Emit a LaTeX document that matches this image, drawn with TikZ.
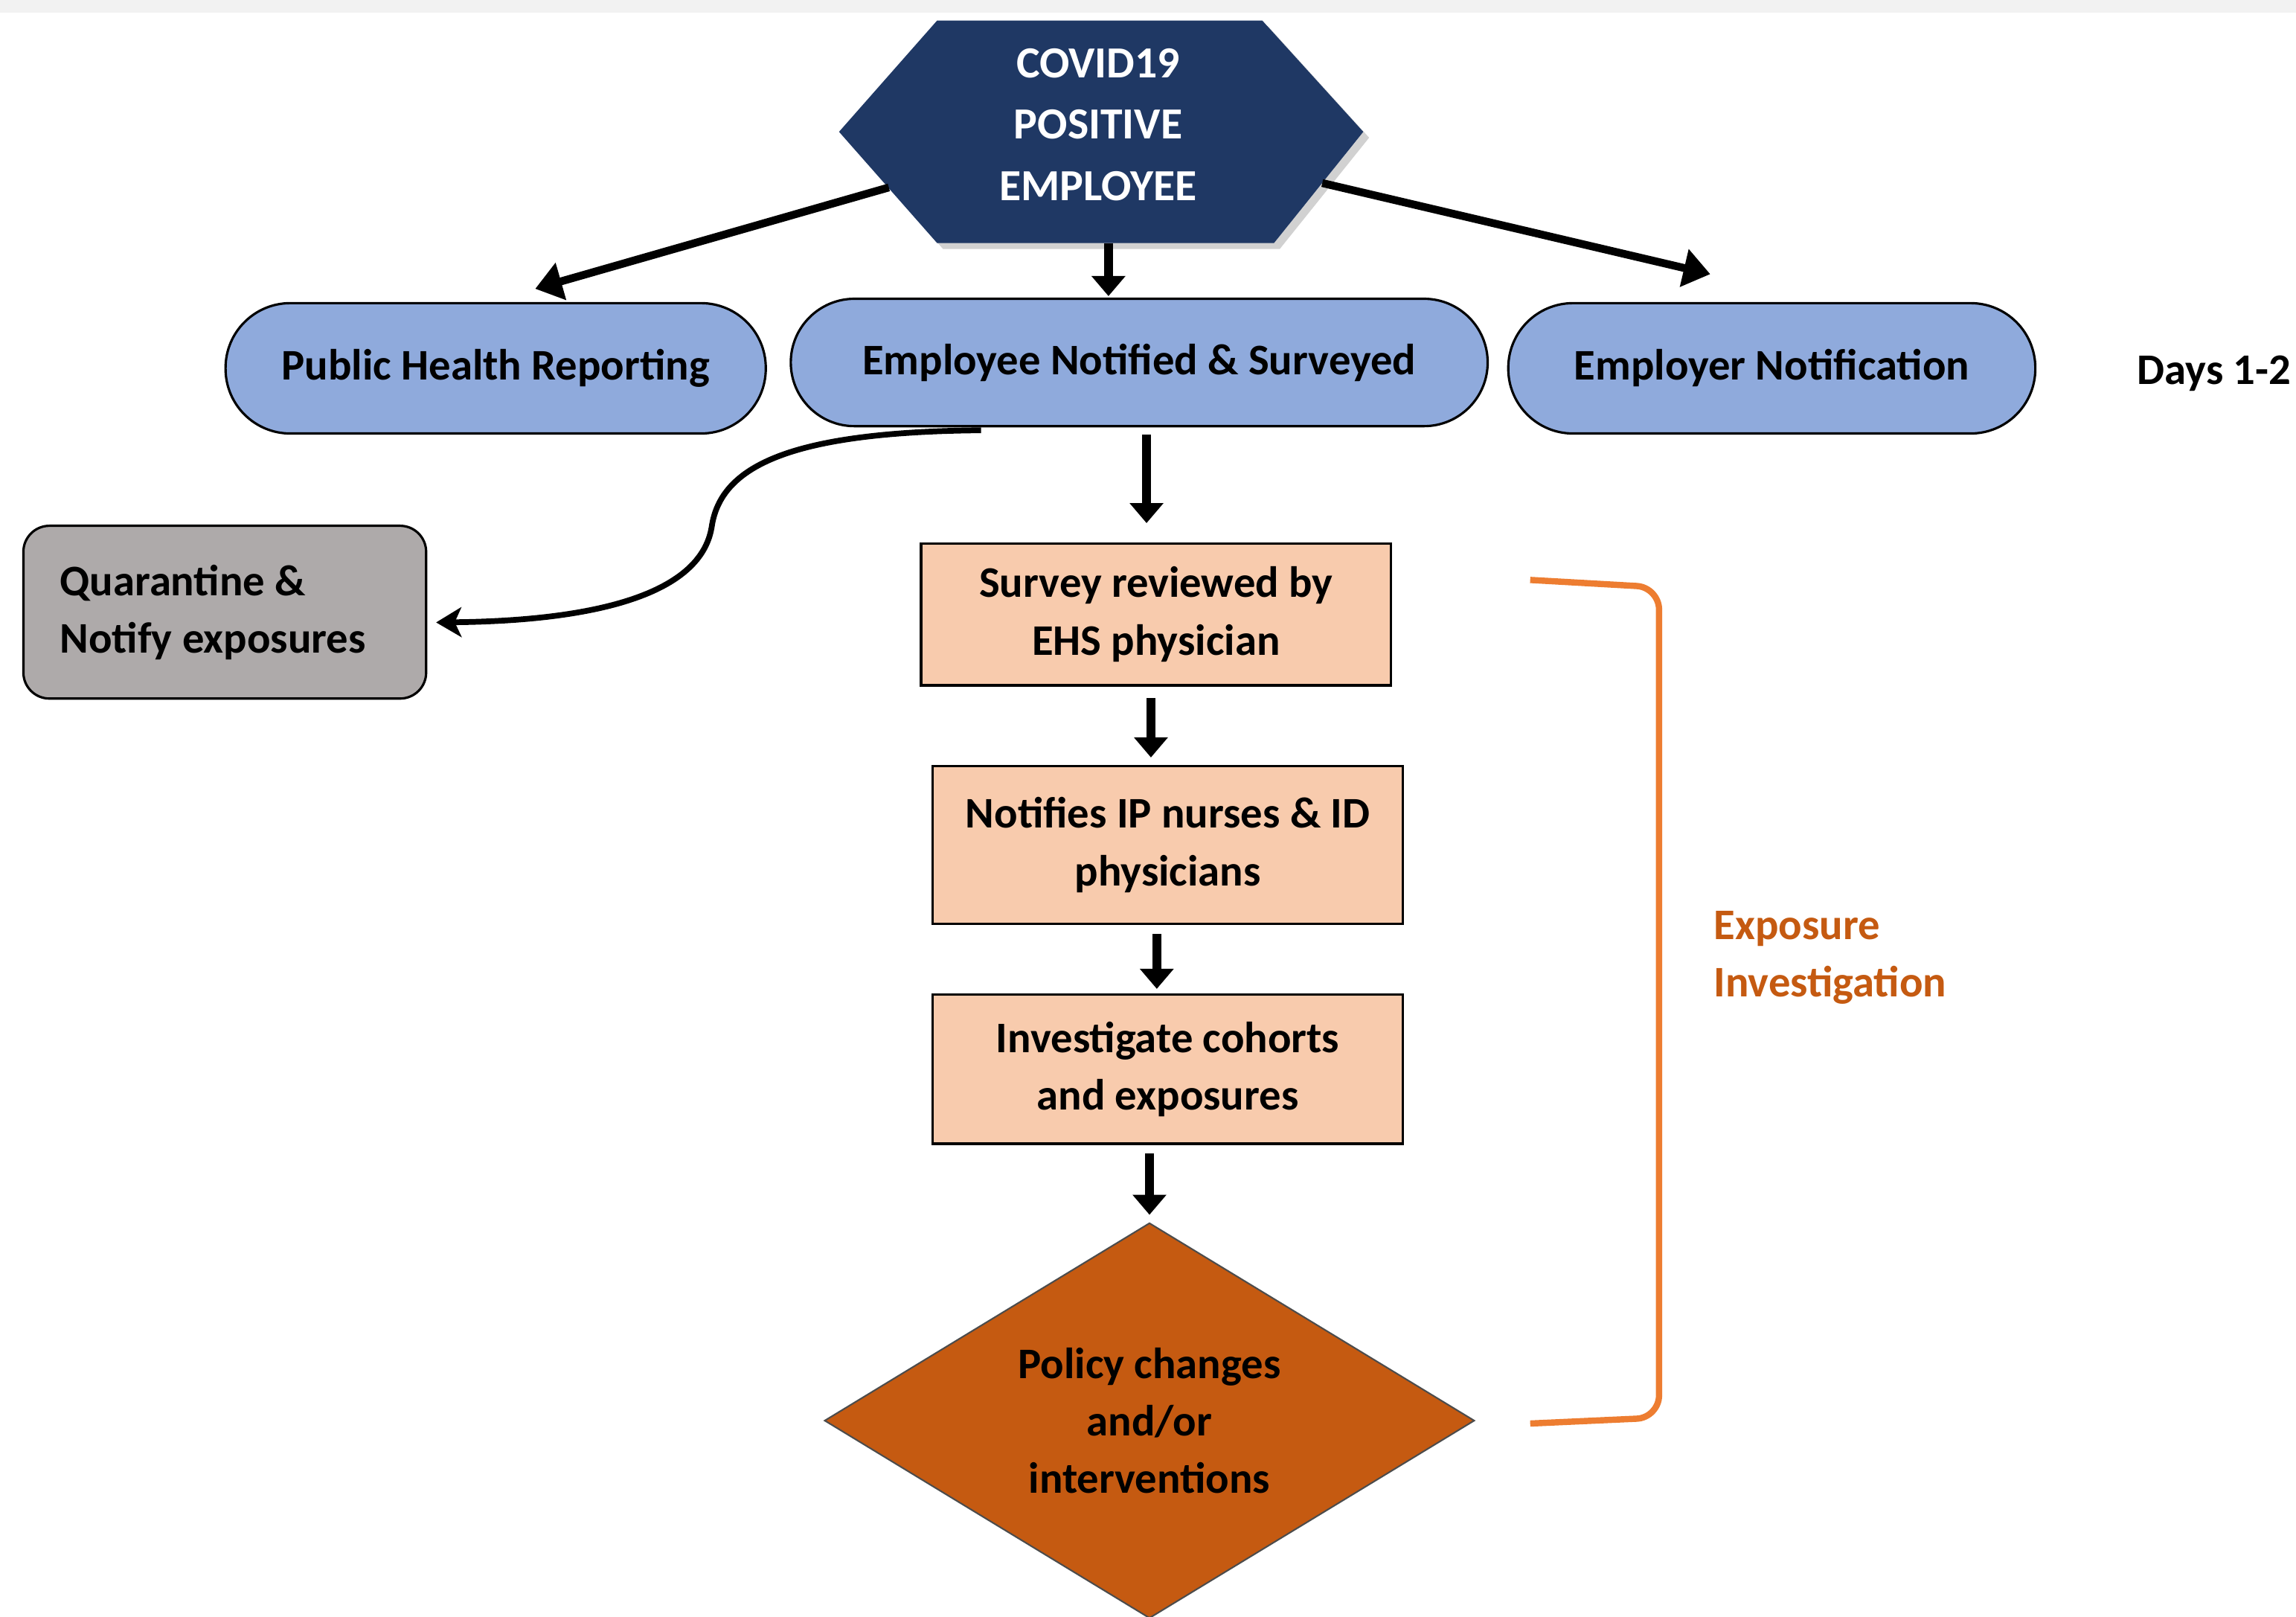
\documentclass[tikz,border=0pt]{standalone}
\usepackage{fontspec}
\setmainfont{Carlito}
\usetikzlibrary{arrows.meta,shapes.geometric,calc}
\definecolor{navy}{HTML}{1F3864}
\definecolor{pillblue}{HTML}{8FAADC}
\definecolor{peach}{HTML}{F8CBAD}
\definecolor{diafill}{HTML}{C55A11}
\definecolor{quargray}{HTML}{AEAAAA}
\definecolor{bracketorange}{HTML}{ED7D31}
\definecolor{orangetxt}{HTML}{C55A11}
\definecolor{bandgray}{HTML}{F2F2F2}
\begin{document}
\begin{tikzpicture}[x=0.01968cm,y=-0.01968cm,
  base/.style={font=\bfseries\fontsize{16.7}{22}\selectfont, align=center, inner sep=0pt},
  pill/.style={base, draw=black, line width=0.9pt, fill=pillblue, rounded corners=0.87cm, minimum height=1.752cm},
  peachbox/.style={base, draw=black, line width=0.9pt, fill=peach, minimum width=6.317cm},
  varrow/.style={line width=3.4pt, -{Triangle[width=0.44cm,length=0.27cm]}},
  darrow/.style={line width=3pt, -{Triangle[width=0.5cm,length=0.36cm]}},
  carrow/.style={line width=2.2pt, -{Stealth[width=0.4cm,length=0.34cm,inset=0.09cm]}},
]
\useasboundingbox (0,0) rectangle (1568,1104);
\fill[white] (0,0) rectangle (1568,1104);
\fill[bandgray] (0,0) rectangle (1568,8.5);

% hexagon
\fill[black, opacity=0.18] (577,94) -- (644,18) -- (866,18) -- (935,94) -- (874,170) -- (644,170) -- cycle;
\fill[navy] (573,90) -- (640,14) -- (862,14) -- (931,90) -- (870,166) -- (640,166) -- cycle;
\node[base, text=white, font=\bfseries\fontsize{17}{23.5}\selectfont] (hex) at (750,85) {COVID19\\POSITIVE\\EMPLOYEE};
\coordinate (hexS) at (757,166);
\coordinate (hexL) at (607,128);
\coordinate (hexR) at (903,125);

% top row
\node[pill, minimum width=7.262cm] (pub) at (338.5,251.5) {Public Health Reporting};
\node[pill, minimum width=9.368cm, minimum height=1.712cm, rounded corners=0.856cm] (emp) at (778,247.5) {Employee Notified \& Surveyed};
\node[pill, minimum width=7.085cm] (empr) at (1210,251.5) {Employer Notification};
\node[base, anchor=east] (days) at (1565,255) {Days 1-2};

% quarantine
\node[base, draw=black, line width=0.9pt, fill=quargray, rounded corners=0.35cm,
      align=flush left, text width=4.43cm, inner xsep=0.492cm, minimum height=2.322cm] (quar) at (153.5,418) {Quarantine \&\\Notify exposures};

% vertical chain
\node[peachbox, minimum height=1.909cm] (survey) at (789.5,419.5) {Survey reviewed by\\EHS physician};
\node[peachbox, minimum height=2.125cm] (notif) at (797.5,577) {Notifies IP nurses \& ID\\physicians};
\node[peachbox, minimum height=2.007cm] (invest) at (797.5,730) {Investigate cohorts\\and exposures};
\node[diamond, base, draw=black!70, line width=0.6pt, fill=diafill, shape aspect=1.64,
      minimum width=8.738cm, minimum height=5.314cm] (dia) at (785,970) {Policy changes\\and/or\\interventions};

% bracket and label
\draw[bracketorange, line width=2.4pt, rounded corners=0.3cm] (1045,396) -- (1133,401) -- (1133,968) -- (1045,972);
\node[base, text=orangetxt, align=left, anchor=west] (expo) at (1170,654) {Exposure\\Investigation};

% connectors
\draw[varrow] (hexS) -- ($(hexS |- emp.north)+(0,-1)$);
\draw[darrow] (hexL) -- ($(pub.north)+(27,-9)$);
\draw[darrow] (hexR) -- ($(empr.north)+(-42,-19)$);
\draw[varrow] ($(emp.south)+(5,5)$) -- ($(survey.north)+(-6.5,-13)$);
\draw[varrow] ($(survey.south)+(-3.5,8)$) -- ($(notif.north)+(-11.5,-5)$);
\draw[varrow] ($(notif.south)+(-7.5,6)$) -- ($(invest.north)+(-7.5,-3)$);
\draw[varrow] ($(invest.south)+(-12.5,6)$) -- ($(dia.north)+(0,-5)$);
\draw[carrow] ($(emp.south)+(-108,2)$) .. controls (540,295) and (492,318) .. (486,360)
   .. controls (478,408) and (400,424) .. ($(quar.east)+(6,7)$);
\end{tikzpicture}
\end{document}
